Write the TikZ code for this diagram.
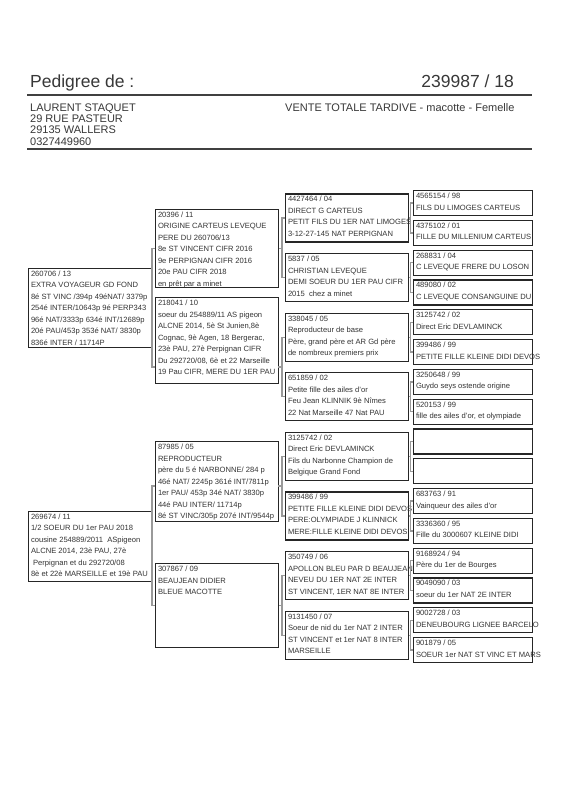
\documentclass[tikz,border=0pt]{standalone}
\usepackage{fontspec}
\setmainfont{Liberation Sans}
\tikzset{
  pbox/.style={draw=black!85, line width=1.1pt, inner sep=0pt, anchor=north west},
  ptxt/.style={inner sep=0pt, anchor=north west, align=left, text=black!80, font=\fontsize{7.6}{11.5}\selectfont},
  conn/.style={draw=black!40, line width=1.3pt},
  rulest/.style={draw=black!75, line width=1.1pt},
  headtxt/.style={inner sep=0pt, text=black!78},
}
\newcommand\pedbox[6]{%
  \node[pbox, minimum width=#4pt, minimum height=#5pt] (#1) at (#2,#3) {};
  \node[ptxt] (#1t) at ([xshift=2.8pt,yshift=-2.8pt]#1.north west) {#6};
}
\begin{document}
\begin{tikzpicture}[x=1pt,y=-1pt]
\useasboundingbox[fill=white] (0,0) rectangle (566,800);

% header
\node[headtxt, anchor=base west, font=\fontsize{17.5}{20}\selectfont] (title) at (30,87) {Pedigree de :};
\node[headtxt, anchor=base east, font=\fontsize{17.5}{20}\selectfont] (num) at (514,87) {239987 / 18};
\draw[rulest] (27,95) -- (532,95);
\node[headtxt, anchor=north west, align=left, font=\fontsize{11}{11.2}\selectfont] (addr) at (30,103.6)
  {LAURENT STAQUET\\29 RUE PASTEUR\\29135 WALLERS\\0327449960};
\node[headtxt, anchor=base west, font=\fontsize{11}{11.2}\selectfont] (vente) at (285,111.5)
  {VENTE TOTALE TARDIVE - macotte - Femelle};
\draw[rulest] (27,149) -- (532,149);

% generation 1
\pedbox{A}{28}{267.8}{123}{79}{260706 / 13\\EXTRA VOYAGEUR GD FOND\\8é ST VINC /394p 49éNAT/ 3379p\\254é INTER/10643p 9é PERP343\\96é NAT/3333p 634é INT/12689p\\20é PAU/453p 353é NAT/ 3830p\\836é INTER / 11714P}
\pedbox{B}{28}{510.7}{123}{70}{269674 / 11\\1/2 SOEUR DU 1er PAU 2018\\cousine 254889/2011 \ ASpigeon\\ALCNE 2014, 23è PAU, 27è\\\ Perpignan et du 292720/08\\8è et 22è MARSEILLE et 19è PAU}

% generation 2
\pedbox{c0}{155}{208.7}{123}{78}{20396 / 11\\ORIGINE CARTEUS LEVEQUE\\PERE DU 260706/13\\8e ST VINCENT CIFR 2016\\9e PERPIGNAN CIFR 2016\\20e PAU CIFR 2018\\en prêt par a minet}
\pedbox{c1}{155}{297}{123}{86}{218041 / 10\\soeur du 254889/11 AS pigeon\\ALCNE 2014, 5è St Junien,8è\\Cognac, 9è Agen, 18 Bergerac,\\23è PAU, 27è Perpignan CIFR\\Du 292720/08, 6è et 22 Marseille\\19 Pau CIFR, MERE DU 1ER PAU}
\pedbox{c2}{155}{441}{123}{80}{87985 / 05\\REPRODUCTEUR\\père du 5 é NARBONNE/ 284 p\\46é NAT/ 2245p 361é INT/7811p\\1er PAU/ 453p 34é NAT/ 3830p\\44é PAU INTER/ 11714p\\8é ST VINC/305p 207é INT/9544p}
\pedbox{c3}{155}{563}{123}{84}{307867 / 09\\BEAUJEAN DIDIER\\BLEUE MACOTTE}

% generation 3
\pedbox{d0}{285}{193.4}{123}{48}{4427464 / 04\\DIRECT G CARTEUS\\PETIT FILS DU 1ER NAT LIMOGES\\3-12-27-145 NAT PERPIGNAN}
\pedbox{d1}{285}{253}{123}{48}{5837 / 05\\CHRISTIAN LEVEQUE\\DEMI SOEUR DU 1ER PAU CIFR\\2015 \ chez a minet}
\pedbox{d2}{285}{312.6}{123}{48}{338045 / 05\\Reproducteur de base\\Père, grand père et AR Gd père\\de nombreux premiers prix}
\pedbox{d3}{285}{372.2}{123}{48}{651859 / 02\\Petite fille des ailes d'or\\Feu Jean KLINNIK 9è Nîmes\\22 Nat Marseille 47 Nat PAU}
\pedbox{d4}{285}{431.8}{123}{48}{3125742 / 02\\Direct Eric DEVLAMINCK\\Fils du Narbonne Champion de\\Belgique Grand Fond}
\pedbox{d5}{285}{491.4}{123}{48}{399486 / 99\\PETITE FILLE KLEINE DIDI DEVOS\\PERE:OLYMPIADE J KLINNICK\\MERE:FILLE KLEINE DIDI DEVOS}
\pedbox{d6}{285}{551}{123}{48}{350749 / 06\\APOLLON BLEU PAR D BEAUJEAN\\NEVEU DU 1ER NAT 2E INTER\\ST VINCENT, 1ER NAT 8E INTER}
\pedbox{d7}{285}{610.6}{123}{48}{9131450 / 07\\Soeur de nid du 1er NAT 2 INTER\\ST VINCENT et 1er NAT 8 INTER\\MARSEILLE}

% generation 4
\pedbox{e0}{413}{190}{119}{25}{4565154 / 98\\FILS DU LIMOGES CARTEUS}
\pedbox{e1}{413}{219.8}{119}{25}{4375102 / 01\\FILLE DU MILLENIUM CARTEUS}
\pedbox{e2}{413}{249.6}{119}{25}{268831 / 04\\C LEVEQUE FRERE DU LOSON}
\pedbox{e3}{413}{279.4}{119}{25}{489080 / 02\\C LEVEQUE CONSANGUINE DU}
\pedbox{e4}{413}{309.2}{119}{25}{3125742 / 02\\Direct Eric DEVLAMINCK}
\pedbox{e5}{413}{339}{119}{25}{399486 / 99\\PETITE FILLE KLEINE DIDI DEVOS}
\pedbox{e6}{413}{368.8}{119}{25}{3250648 / 99\\Guydo seys ostende origine}
\pedbox{e7}{413}{398.6}{119}{25}{520153 / 99\\fille des ailes d'or, et olympiade}
\pedbox{e8}{413}{428.4}{119}{25}{}
\pedbox{e9}{413}{458.2}{119}{25}{}
\pedbox{e10}{413}{488}{119}{25}{683763 / 91\\Vainqueur des ailes d'or}
\pedbox{e11}{413}{517.8}{119}{25}{3336360 / 95\\Fille du 3000607 KLEINE DIDI}
\pedbox{e12}{413}{547.6}{119}{25}{9168924 / 94\\Père du 1er de Bourges}
\pedbox{e13}{413}{577.4}{119}{25}{9049090 / 03\\soeur du 1er NAT 2E INTER}
\pedbox{e14}{413}{607.2}{119}{25}{9002728 / 03\\DENEUBOURG LIGNEE BARCELO}
\pedbox{e15}{413}{637}{119}{25}{901879 / 05\\SOEUR 1er NAT ST VINC ET MARS}

% nominal centres of generation-2 boxes
\coordinate (c1m) at (155,367);
\coordinate (c2m) at (155,486);
\coordinate (c1r) at (278,367);
\coordinate (c2r) at (278,486);

% brackets gen1 -> gen2
\draw[conn] (c0.west) -- ++(-3,0) coordinate (bA) |- (c1m);
\draw[conn] (A.east) -- (A.east -| bA);
\draw[conn] (c2m) -- ++(-3,0) coordinate (bB) |- (c3.west);
\draw[conn] (B.east) -- (B.east -| bB);

% brackets gen2 -> gen3
\draw[conn] (d0.west) -- ++(-3,0) coordinate (b0) |- (d1.west);
\draw[conn] (c0.east) -- (c0.east -| b0);
\draw[conn] (d2.west) -- ++(-3,0) coordinate (b1) |- (d3.west);
\draw[conn] (c1r) -- (c1r -| b1);
\draw[conn] (d4.west) -- ++(-3,0) coordinate (b2) |- (d5.west);
\draw[conn] (c2r) -- (c2r -| b2);
\draw[conn] (d6.west) -- ++(-3,0) coordinate (b3) |- (d7.west);
\draw[conn] (c3.east) -- (c3.east -| b3);

% brackets gen3 -> gen4
\foreach \j/\a/\b in {0/0/1,1/2/3,2/4/5,3/6/7,4/8/9,5/10/11,6/12/13,7/14/15}{
  \draw[conn] (e\a.west) -- ++(-2.5,0) coordinate (bx\j) |- (e\b.west);
  \draw[conn] (d\j.east) -- (d\j.east -| bx\j);
}
\end{tikzpicture}
\end{document}
